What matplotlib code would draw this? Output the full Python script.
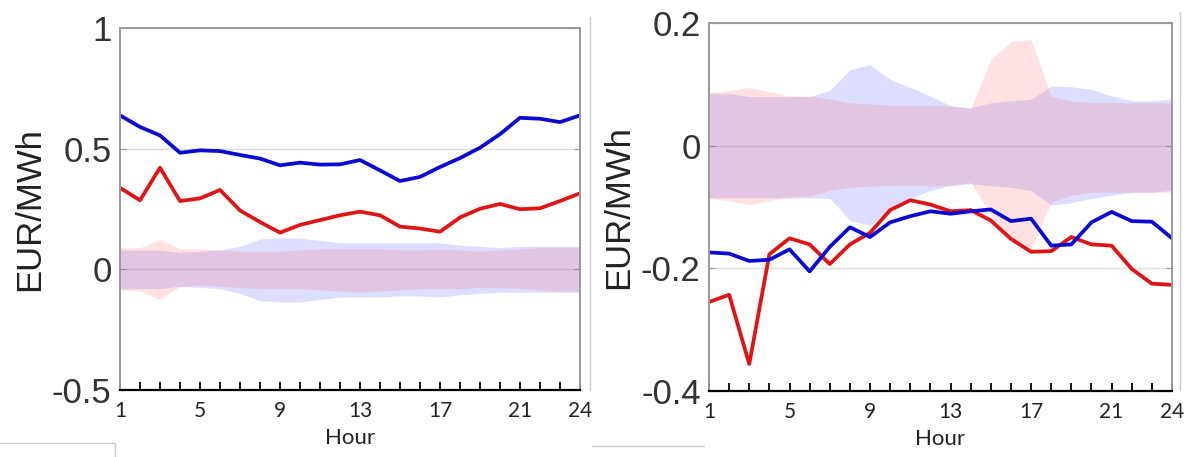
import numpy as np
import matplotlib.pyplot as plt
from matplotlib.lines import Line2D

hours = np.arange(1, 25)

# left panel
blue_L = [0.638, 0.59, 0.555, 0.483, 0.493, 0.49, 0.474, 0.459, 0.431, 0.442, 0.434, 0.435,
          0.453, 0.41, 0.366, 0.383, 0.424, 0.461, 0.504, 0.56, 0.628, 0.624, 0.61, 0.638]
red_L = [0.338, 0.286, 0.421, 0.283, 0.294, 0.329, 0.244, 0.196, 0.152, 0.184, 0.204, 0.224,
         0.239, 0.224, 0.177, 0.169, 0.156, 0.215, 0.251, 0.271, 0.249, 0.253, 0.283, 0.315]
blue_up_L = [0.08, 0.08, 0.08, 0.07, 0.075, 0.08, 0.095, 0.125, 0.13, 0.13, 0.12, 0.11,
             0.11, 0.11, 0.11, 0.11, 0.11, 0.10, 0.095, 0.09, 0.095, 0.095, 0.095, 0.095]
blue_lo_L = [-0.08, -0.08, -0.08, -0.07, -0.075, -0.08, -0.1, -0.13, -0.135, -0.135, -0.125, -0.115,
             -0.115, -0.115, -0.11, -0.11, -0.115, -0.105, -0.1, -0.095, -0.095, -0.095, -0.095, -0.095]
red_up_L = [0.09, 0.09, 0.125, 0.085, 0.085, 0.08, 0.075, 0.075, 0.075, 0.08, 0.085, 0.085,
            0.085, 0.085, 0.08, 0.08, 0.085, 0.08, 0.075, 0.08, 0.085, 0.09, 0.09, 0.09]
red_lo_L = [-0.085, -0.09, -0.125, -0.07, -0.065, -0.07, -0.075, -0.08, -0.08, -0.08, -0.085, -0.09,
            -0.095, -0.09, -0.085, -0.08, -0.08, -0.08, -0.075, -0.075, -0.08, -0.085, -0.09, -0.09]

# right panel
blue_R = [-0.174, -0.176, -0.188, -0.186, -0.169, -0.205, -0.165, -0.133, -0.149, -0.125, -0.115, -0.107,
          -0.111, -0.107, -0.104, -0.123, -0.119, -0.163, -0.161, -0.125, -0.108, -0.123, -0.124, -0.151]
red_R = [-0.255, -0.243, -0.356, -0.177, -0.151, -0.161, -0.193, -0.161, -0.142, -0.105, -0.089, -0.096,
         -0.107, -0.105, -0.122, -0.152, -0.173, -0.172, -0.149, -0.161, -0.163, -0.201, -0.225, -0.227]
blue_up_R = [0.085, 0.085, 0.08, 0.08, 0.08, 0.08, 0.09, 0.124, 0.132, 0.108, 0.095, 0.081,
             0.065, 0.062, 0.07, 0.073, 0.076, 0.097, 0.096, 0.092, 0.081, 0.073, 0.073, 0.076]
blue_lo_R = [-0.085, -0.085, -0.085, -0.085, -0.085, -0.085, -0.086, -0.122, -0.13, -0.103, -0.086, -0.073,
             -0.065, -0.062, -0.065, -0.068, -0.073, -0.097, -0.093, -0.086, -0.081, -0.076, -0.076, -0.073]
red_up_R = [0.086, 0.09, 0.095, 0.088, 0.081, 0.081, 0.076, 0.07, 0.068, 0.066, 0.065, 0.065,
            0.065, 0.06, 0.14, 0.17, 0.173, 0.08, 0.073, 0.07, 0.07, 0.07, 0.07, 0.07]
red_lo_R = [-0.086, -0.09, -0.096, -0.09, -0.084, -0.082, -0.073, -0.068, -0.066, -0.065, -0.065, -0.065,
            -0.065, -0.06, -0.113, -0.151, -0.168, -0.092, -0.081, -0.076, -0.076, -0.076, -0.076, -0.076]

BLUE = "#0a0ad2"
RED = "#e01414"

fig = plt.figure(figsize=(11.88, 4.57), dpi=100)
axL = fig.add_axes([120 / 1188, 1 - 390 / 457, 460 / 1188, 362 / 457])
axR = fig.add_axes([709 / 1188, 1 - 391 / 457, 463 / 1188, 368 / 457])


def draw(ax, blue, red, bu, bl, ru, rl, ylim, yticks, yticklabels):
    ax.fill_between(hours, bl, bu, color="#3a3aff", alpha=0.17, lw=0)
    ax.fill_between(hours, rl, ru, color="#ff4a4a", alpha=0.16, lw=0)
    ax.plot(hours, red, color=RED, lw=2.7)
    ax.plot(hours, blue, color=BLUE, lw=2.7)
    ax.set_xlim(1, 24)
    ax.set_ylim(*ylim)
    ax.set_yticks(yticks)
    ax.set_yticklabels(yticklabels, family="Liberation Sans", fontsize=25, color="#333333")
    ax.grid(axis="y", color="#dddddd", lw=1)
    ax.set_axisbelow(True)
    ax.set_xticks([1, 5, 9, 13, 17, 21, 24])
    ax.set_xticklabels(["1", "5", "9", "13", "17", "21", "24"], family="Lato", fontsize=15,
                       color="#222222")
    ax.set_xticks(hours, minor=True)
    ax.tick_params(axis="x", which="both", direction="in", length=6, width=1.3,
                   color="black", pad=8, top=False)
    ax.tick_params(axis="y", direction="in", length=4, color="#999999", right=True, pad=6)
    for s in ["left", "top", "right"]:
        ax.spines[s].set_color("#999999")
        ax.spines[s].set_linewidth(1.4)
    ax.spines["bottom"].set_color("black")
    ax.spines["bottom"].set_linewidth(1.6)
    ax.set_xlabel("Hour", family="Lato", fontsize=16, color="#222222", labelpad=5)
    ax.set_ylabel("EUR/MWh", family="Liberation Sans", fontsize=25, color="#222222", labelpad=4)


draw(axL, blue_L, red_L, blue_up_L, blue_lo_L, red_up_L, red_lo_L,
     (-0.5, 1), [-0.5, 0, 0.5, 1], ["-0.5", "0", "0.5", "1"])
draw(axR, blue_R, red_R, blue_up_R, blue_lo_R, red_up_R, red_lo_R,
     (-0.4, 0.2), [-0.4, -0.2, 0, 0.2], ["-0.4", "-0.2", "0", "0.2"])

# scan artefacts: separators and frame lines around the panels
for x, y0 in [(590, 17), (1180, 12)]:
    fig.add_artist(Line2D([x / 1188, x / 1188], [1 - 390 / 457, 1 - y0 / 457],
                          color="#cccccc", lw=1))
fig.add_artist(Line2D([0, 115 / 1188, 115 / 1188], [1 - 443 / 457, 1 - 443 / 457, 0],
                      color="#cccccc", lw=1))
fig.add_artist(Line2D([592 / 1188, 704 / 1188], [1 - 446 / 457, 1 - 446 / 457],
                      color="#cccccc", lw=1))

fig.savefig("out.png", dpi=100)
